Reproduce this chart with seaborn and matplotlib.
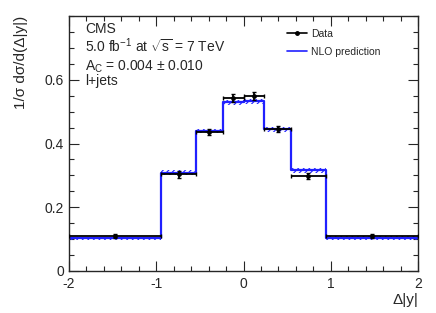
import numpy as np
import pandas as pd
import matplotlib
matplotlib.use("Agg")
import matplotlib.pyplot as plt
import seaborn as sns
from matplotlib.ticker import MultipleLocator
from matplotlib.lines import Line2D

# ---- data ----
bin_edges = [-2.0, -0.94, -0.54, -0.24, 0.0, 0.24, 0.54, 0.94, 2.0]
data_vals = [0.109, 0.303, 0.437, 0.543, 0.550, 0.446, 0.298, 0.110]
data_errs = [0.006, 0.010, 0.010, 0.012, 0.012, 0.010, 0.010, 0.006]
nlo_vals = [0.102, 0.309, 0.440, 0.530, 0.532, 0.444, 0.316, 0.104]
nlo_errs = [0.006, 0.007, 0.007, 0.008, 0.008, 0.007, 0.007, 0.006]
legend_labels = ["Data", "NLO prediction"]

sns.set_style("ticks")
plt.rcParams['font.family'] = ['Liberation Sans', 'DejaVu Sans']
plt.rcParams['mathtext.fontset'] = 'custom'
plt.rcParams['mathtext.rm'] = 'Liberation Sans'
plt.rcParams['mathtext.it'] = 'Liberation Sans:italic'
plt.rcParams['hatch.linewidth'] = 0.8

fig = plt.figure(figsize=(4.36, 3.13), dpi=100)
ax = fig.add_axes([69/436, 1-271/313, (418-69)/436, (271-16)/313])

edges = np.array(bin_edges)
centers = 0.5 * (edges[:-1] + edges[1:])
halfw = 0.5 * (edges[1:] - edges[:-1])
nlo = np.array(nlo_vals)
nerr = np.array(nlo_errs)

# NLO band (hatched)
ax.fill_between(edges, np.append(nlo - nerr, (nlo - nerr)[-1]),
                np.append(nlo + nerr, (nlo + nerr)[-1]), step='post',
                facecolor='none', edgecolor='#2020ff', hatch='//////', linewidth=0)

# NLO step line
df_nlo = pd.DataFrame({"x": edges, "y": np.append(nlo, nlo[-1])})
sns.lineplot(data=df_nlo, x="x", y="y", ax=ax, drawstyle='steps-post',
             color='#2020ff', linewidth=1.6, legend=False)

# Data
df_data = pd.DataFrame({"x": centers, "y": data_vals})
ax.errorbar(centers, data_vals, xerr=halfw, yerr=data_errs, fmt='none',
            ecolor='black', elinewidth=1.3, capsize=1.5, capthick=1.0, zorder=4)
sns.scatterplot(data=df_data, x="x", y="y", ax=ax, color='black', s=10,
                edgecolor='black', zorder=5, legend=False)

ax.set_xlim(-2, 2)
ax.set_ylim(0, 0.8)
ax.xaxis.set_minor_locator(MultipleLocator(0.2))
ax.yaxis.set_minor_locator(MultipleLocator(0.05))
ax.set_yticks([0, 0.2, 0.4, 0.6])
ax.set_yticklabels(["0", "0.2", "0.4", "0.6"])
ax.set_xticks([-2, -1, 0, 1, 2])
ax.set_xticklabels(["-2", "-1", "0", "1", "2"])
ax.tick_params(which='both', direction='in', top=True, right=True, labelsize=10, width=0.8)
ax.tick_params(which='major', length=7)
ax.tick_params(which='minor', length=3.5)
ax.tick_params(axis='x', pad=4)
for s in ax.spines.values():
    s.set_linewidth(1.0)

ax.set_xlabel("Δ|y|", fontsize=11, loc='right', labelpad=2)
ax.set_ylabel("1/σ dσ/d(Δ|y|)", fontsize=11, loc='top', labelpad=12)

# Text block
tx = 0.046
ax.text(tx, 0.933, "CMS", transform=ax.transAxes, fontsize=10, va='baseline')
ax.text(tx, 0.859, r"5.0 fb$^{-1}$ at $\sqrt{\mathrm{s}}$ = 7 TeV", transform=ax.transAxes, fontsize=10, va='baseline')
ax.text(tx, 0.784, r"A$_{\mathrm{C}}$ = 0.004 $\pm$ 0.010", transform=ax.transAxes, fontsize=10, va='baseline')
ax.text(tx, 0.729, "l+jets", transform=ax.transAxes, fontsize=10, va='baseline')

# Legend
handles = [Line2D([], [], color='black', marker='o', markersize=2.5, linewidth=1.2),
           Line2D([], [], color='#2020ff', linewidth=1.2)]
ax.legend(handles, legend_labels, loc='upper left', bbox_to_anchor=(0.625, 0.95),
          frameon=False, fontsize=7.5, handlelength=1.9, handletextpad=0.4,
          labelspacing=0.75, borderpad=0, borderaxespad=0)

fig.savefig("out.png", dpi=100)
